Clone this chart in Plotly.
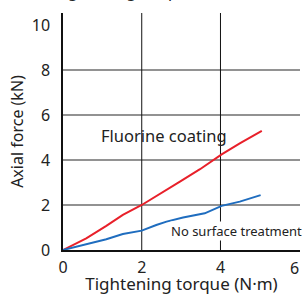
import plotly.graph_objects as go

# Data
fluorine_x = [0, 0.59, 1.10, 1.52, 2.0, 2.46, 2.97, 3.48, 4.03, 4.49, 5.05]
fluorine_y = [0, 0.52, 1.07, 1.56, 2.0, 2.48, 3.04, 3.59, 4.25, 4.74, 5.29]
plain_x = [0, 0.59, 1.10, 1.52, 2.0, 2.37, 2.63, 3.05, 3.60, 4.03, 4.49, 5.02]
plain_y = [0, 0.27, 0.48, 0.71, 0.86, 1.11, 1.26, 1.44, 1.63, 1.96, 2.15, 2.44]
x_ticks = [0, 2, 4, 6]
y_ticks = [0, 2, 4, 6, 8, 10]
y_grid = [2, 4, 6, 8]

FONT = "Noto Sans"
TXT = "#222222"

fig = go.Figure()
fig.add_trace(go.Scatter(x=fluorine_x, y=fluorine_y, mode="lines",
                         line=dict(color="#e8202a", width=2), showlegend=False))
fig.add_trace(go.Scatter(x=plain_x, y=plain_y, mode="lines",
                         line=dict(color="#1f6dbf", width=2), showlegend=False))

shapes = []
for g in y_grid:
    shapes.append(dict(type="line", xref="paper", x0=0, x1=1, yref="y", y0=g, y1=g,
                       line=dict(color="#6e6e6e", width=1.5), layer="below"))
for g in x_ticks[1:3]:
    shapes.append(dict(type="line", xref="x", x0=g, x1=g, yref="paper", y0=0, y1=1,
                       line=dict(color="#111111", width=1), layer="below"))

annotations = [
    dict(x=0.92, y=5.1, xref="x", yref="y", text="Fluorine coating", showarrow=False,
         xanchor="left", yanchor="middle", font=dict(family=FONT, size=16.5, color=TXT)),
    dict(x=2.72, y=0.86, xref="x", yref="y", text="No surface treatment", showarrow=False,
         xanchor="left", yanchor="middle", bgcolor="white", borderpad=0,
         font=dict(family=FONT, size=13, color=TXT)),
    dict(x=6, y=0, xref="x", yref="y", text="6", showarrow=False, xanchor="right",
         yanchor="top", yshift=-5, xshift=2, font=dict(family=FONT, size=16, color=TXT)),
    dict(x=0.5, y=1, xref="paper", yref="paper", text="Tightening torque and axial force,",
         showarrow=False, xanchor="center", yanchor="bottom", yshift=9,
         font=dict(family=FONT, size=16, color=TXT)),
]

fig.update_layout(
    width=302, height=295,
    margin=dict(l=63, r=2, t=13, b=45),
    paper_bgcolor="white", plot_bgcolor="white",
    font=dict(family=FONT, size=16, color=TXT),
    shapes=shapes, annotations=annotations,
    xaxis=dict(range=[0, 6.02], tickvals=x_ticks[:3], ticktext=[str(v) for v in x_ticks[:3]],
               showgrid=False, zeroline=False, showline=True, linecolor="#111111", linewidth=2,
               ticks="", ticklabelstandoff=2, automargin=False,
               title=dict(text="Tightening torque (N·m)", standoff=2,
                          font=dict(family=FONT, size=17, color=TXT))),
    yaxis=dict(range=[0, 10.53], tickvals=y_ticks, ticktext=[str(v) for v in y_ticks],
               showgrid=False, zeroline=False, showline=True, linecolor="#111111", linewidth=1.5,
               ticks="", ticklabelstandoff=8, automargin=False,
               title=dict(text="Axial force (kN)", standoff=4,
                          font=dict(family=FONT, size=16, color=TXT))),
)

fig.write_html("out.html", config={"displayModeBar": False},
               post_script="document.body.style.margin='0';document.body.style.overflow='hidden';")
